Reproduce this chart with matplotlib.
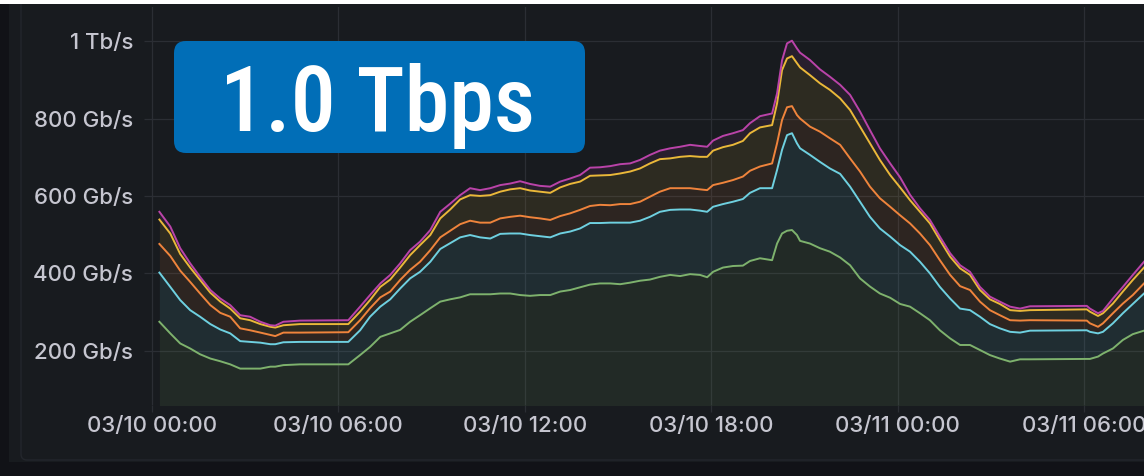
import numpy as np
import matplotlib
matplotlib.use("Agg")
import matplotlib.pyplot as plt
from matplotlib.patches import Rectangle, FancyBboxPatch
from matplotlib.transforms import IdentityTransform

W, H = 1144, 476

# time in hours since 03/10 00:00
hours = [0.24, 0.59, 0.91, 1.23, 1.55, 1.88, 2.20, 2.52, 2.84, 3.16,
         3.49, 3.81, 3.97, 4.23, 4.77, 6.32, 6.70, 7.02, 7.35, 7.67,
         7.99, 8.31, 8.63, 8.96, 9.28, 9.60, 9.92, 10.24, 10.56, 10.89,
         11.21, 11.53, 11.85, 12.17, 12.49, 12.82, 13.14, 13.46, 13.78, 14.10,
         14.42, 14.75, 15.07, 15.39, 15.71, 16.03, 16.35, 16.68, 17.00, 17.32,
         17.64, 17.87, 18.06, 18.38, 18.70, 19.02, 19.25, 19.57, 19.96, 20.12,
         20.28, 20.44, 20.60, 20.76, 20.86, 21.18, 21.50, 21.82, 22.15, 22.47,
         22.79, 23.11, 23.43, 23.76, 24.08, 24.40, 24.72, 25.04, 25.36, 25.69,
         26.01, 26.33, 26.65, 26.97, 27.29, 27.62, 27.94, 28.26, 30.09, 30.19,
         30.45, 30.61, 30.93, 31.25, 31.57, 31.93]

# per-series traffic (Gb/s), stacked bottom -> top
green = [275, 245, 219, 206, 191, 180, 173, 165, 154, 154,
         154, 159, 159, 163, 165, 165, 189, 210, 236, 245,
         254, 275, 292, 310, 327, 333, 338, 346, 346, 346,
         348, 348, 344, 342, 344, 344, 353, 357, 364, 371,
         374, 374, 372, 376, 381, 384, 391, 396, 393, 398,
         396, 390, 404, 415, 419, 420, 432, 439, 434, 477,
         503, 510, 512, 499, 484, 477, 465, 456, 441, 421,
         387, 366, 348, 337, 321, 314, 297, 279, 253, 232,
         215, 215, 202, 189, 180, 172, 178, 178, 179, 179,
         185, 193, 206, 228, 243, 252]
cyan = [127, 120, 112, 99, 97, 89, 82, 80, 71, 69,
        67, 58, 58, 59, 58, 58, 64, 78, 78, 88,
        107, 112, 112, 120, 136, 145, 155, 153, 147, 144,
        154, 155, 159, 157, 152, 149, 150, 151, 152, 159,
        156, 157, 159, 155, 155, 162, 168, 168, 172, 167,
        166, 169, 168, 164, 166, 172, 176, 181, 186, 190,
        216, 247, 250, 237, 239, 229, 223, 215, 216, 203,
        198, 180, 168, 158, 152, 142, 133, 121, 112, 103,
        94, 90, 86, 80, 78, 77, 69, 74, 74, 70,
        60, 56, 65, 69, 78, 96]
orange = [74, 80, 76, 73, 60, 49, 43, 43, 33, 30,
          26, 24, 21, 25, 24, 25, 26, 22, 24, 20,
          22, 22, 26, 30, 30, 32, 34, 37, 38, 41,
          40, 43, 46, 46, 46, 45, 45, 47, 48, 44,
          47, 45, 48, 48, 49, 52, 52, 56, 55, 55,
          55, 56, 56, 55, 56, 58, 57, 56, 64, 69,
          77, 72, 70, 73, 77, 73, 78, 78, 75, 73,
          78, 78, 78, 77, 77, 73, 73, 73, 69, 61,
          58, 52, 39, 36, 34, 30, 31, 27, 25, 22,
          17, 22, 26, 25, 23, 26]
yellow = [63, 58, 43, 37, 35, 32, 29, 21, 26, 26,
          22, 21, 22, 19, 22, 21, 22, 21, 27, 31,
          32, 38, 43, 39, 49, 55, 64, 66, 69, 71,
          69, 71, 71, 69, 69, 70, 74, 76, 73, 78,
          76, 78, 79, 84, 86, 86, 84, 77, 81, 83,
          84, 86, 89, 92, 91, 92, 97, 101, 99, 103,
          129, 126, 129, 134, 132, 133, 125, 125, 120, 125,
          116, 112, 99, 82, 72, 60, 56, 56, 52, 47,
          46, 39, 30, 28, 29, 26, 25, 26, 29, 30,
          28, 26, 25, 31, 39, 41]
purple = [20, 18, 15, 11, 8, 7, 8, 9, 8, 9,
          6, 4, 5, 9, 9, 10, 13, 13, 9, 12,
          11, 13, 9, 13, 17, 15, 11, 18, 15, 18,
          17, 15, 18, 17, 15, 16, 15, 14, 17, 21,
          21, 23, 24, 21, 22, 22, 22, 26, 26, 29,
          28, 26, 26, 29, 30, 28, 26, 29, 30, 26,
          25, 39, 40, 38, 38, 39, 36, 34, 35, 39,
          39, 34, 30, 30, 26, 14, 9, 9, 9, 9,
          8, 8, 8, 7, 6, 9, 6, 10, 9, 8,
          7, 6, 13, 12, 13, 15]

x_ticks = [0, 6, 12, 18, 24, 30]
x_tick_labels = ["03/10 00:00", "03/10 06:00", "03/10 12:00",
                 "03/10 18:00", "03/11 00:00", "03/11 06:00"]
y_ticks = [200, 400, 600, 800, 1000]
y_tick_labels = ["200 Gb/s", "400 Gb/s", "600 Gb/s", "800 Gb/s", "1 Tb/s"]
headline = "1.0 Tbps"

series = [green, cyan, orange, yellow, purple]
colors = ["#7EB26D", "#6ED0E0", "#EF843C", "#EAB839", "#BA43A9"]

OUTER = "#111217"
PANEL = "#181b1f"
GRID = "#2b2e34"
TEXT = "#c6c6d0"

fig = plt.figure(figsize=(W / 100, H / 100), dpi=100, facecolor=OUTER)
ident = IdentityTransform()


def box(x0, y0, x1, y1):
    """pixel box (top-left origin) -> display rect args"""
    return (x0, H - y1), x1 - x0, y1 - y0


# panel background
xy, w, h = box(9, 0, W, 462)
fig.add_artist(Rectangle(xy, w, h, transform=ident, facecolor=PANEL,
                         edgecolor="none", zorder=0))
xy, w, h = box(21, -10, W + 20, 460)
fig.add_artist(FancyBboxPatch(xy, w, h, boxstyle="round,pad=0,rounding_size=6",
                              transform=ident, facecolor="none",
                              edgecolor="#23262c", lw=1.0, zorder=0.5))
# white strip on top
xy, w, h = box(0, 0, W, 4)
fig.add_artist(Rectangle(xy, w, h, transform=ident, facecolor="white",
                         edgecolor="none", zorder=5))

# plot axes
ax_l, ax_r, ax_t, ax_b = 151, W, 7, 405
ax = fig.add_axes([ax_l / W, 1 - ax_b / H, (ax_r - ax_l) / W, (ax_b - ax_t) / H])
ax.set_facecolor("none")

x = np.array(hours)
levels = np.cumsum(np.array(series, dtype=float), axis=0)
lower = np.zeros_like(x)
for lev, c in zip(levels, colors):
    ax.fill_between(x, lower, lev, color=c, alpha=0.1, lw=0, zorder=2)
    lower = lev
for lev, c in zip(levels, colors):
    ax.plot(x, lev, color=c, lw=1.4, zorder=3, solid_joinstyle="round")

ax.set_xlim(-0.03, 31.93)
ax.set_ylim(60, 1088)
ax.set_xticks(x_ticks)
ax.set_xticklabels(x_tick_labels)
ax.set_yticks(y_ticks)
ax.set_yticklabels(y_tick_labels)
ax.grid(True, color=GRID, lw=0.9, zorder=1)
for s in ax.spines.values():
    s.set_visible(False)
ax.tick_params(axis="both", length=5, width=0.9, color=GRID,
               labelcolor=TEXT, labelsize=16)
ax.tick_params(axis="x", pad=3)
ax.tick_params(axis="y", pad=8)
for lab in ax.get_xticklabels() + ax.get_yticklabels():
    lab.set_fontfamily(["Inter", "DejaVu Sans"])
    lab.set_fontweight("medium")

# headline badge
xy, w, h = box(174, 41, 585, 153)
fig.add_artist(FancyBboxPatch(xy, w, h, boxstyle="round,pad=0,rounding_size=12",
                              transform=ident, facecolor="#016eb7",
                              edgecolor="none", zorder=6))
fig.text(378 / W, 1 - 131 / H, headline, ha="center", va="baseline",
         fontsize=65, color="white", fontweight="medium",
         family=["Roboto Condensed", "Liberation Sans Narrow", "Roboto"],
         zorder=7)

fig.savefig("out.png", dpi=100, facecolor=OUTER)
